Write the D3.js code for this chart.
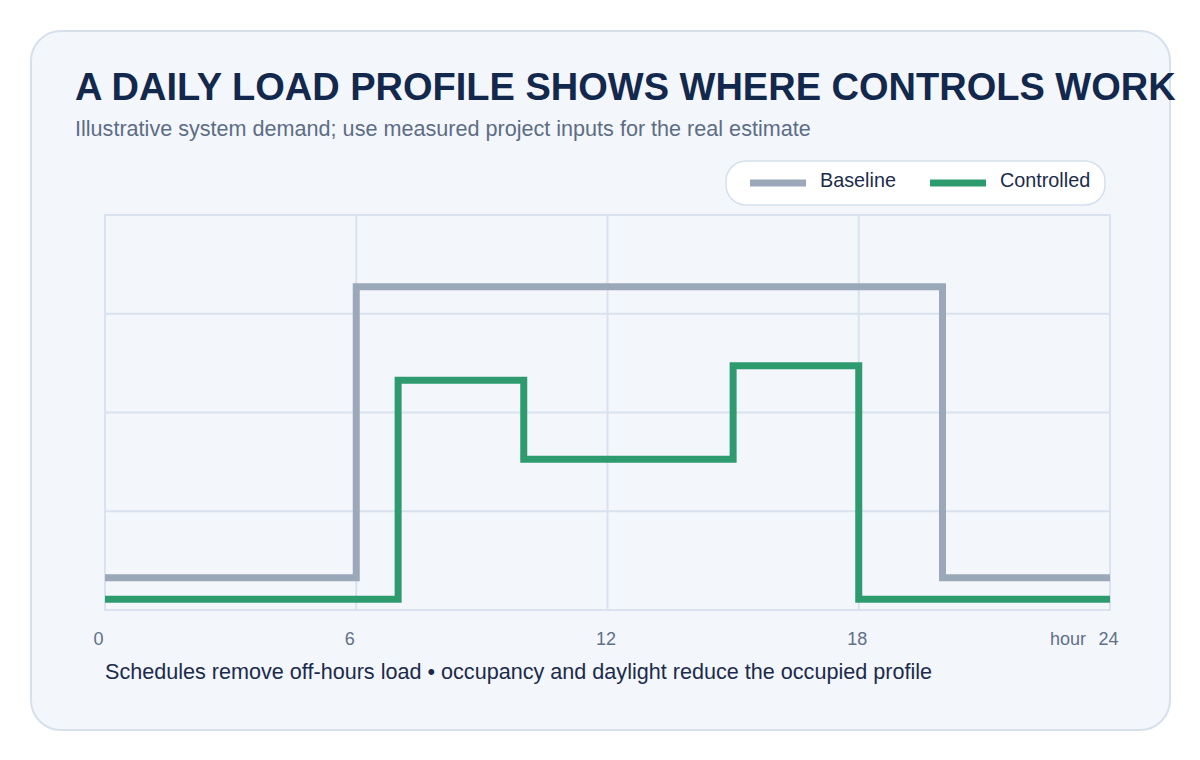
<!DOCTYPE html>
<html>
<head>
<meta charset="utf-8">
<script src="https://cdn.jsdelivr.net/npm/d3@7"></script>
<style>
  body { margin: 0; background: #ffffff; }
  svg text { font-family: "Liberation Sans", Arial, Helvetica, sans-serif; }
</style>
</head>
<body>
<div id="chart"></div>
<script>
// hour boundaries of each step and the level held from that hour on
var baselineHours = [0, 6, 20, 24];
var baselineLoad  = [9, 90, 9, 9];
var controlledHours = [0, 7, 10, 15, 18, 24];
var controlledLoad  = [3, 64, 42, 68, 3, 3];
var xTicks = [0, 6, 12, 18, 24];
var seriesNames = ["Baseline", "Controlled"];
var seriesColors = ["#9aa8ba", "#2e9b6f"];

var titleText = "A DAILY LOAD PROFILE SHOWS WHERE CONTROLS WORK";
var subtitleText = "Illustrative system demand; use measured project inputs for the real estimate";
var noteText = "Schedules remove off-hours load \u2022 occupancy and daylight reduce the occupied profile";

// set the dimensions and margins of the graph
var W = 1200, H = 760;
var margin = {top: 215, right: 90, bottom: 150, left: 105},
    width = W - margin.left - margin.right,
    height = H - margin.top - margin.bottom;

var svg = d3.select("#chart")
  .append("svg")
    .attr("width", W)
    .attr("height", H)
    .style("overflow", "visible");

// card behind everything
svg.append("rect")
  .attr("x", 31).attr("y", 31)
  .attr("width", 1139).attr("height", 699)
  .attr("rx", 30).attr("ry", 30)
  .attr("fill", "#f3f6fb")
  .attr("stroke", "#d6e0ed")
  .attr("stroke-width", 2);

svg.append("text")
  .attr("x", 75).attr("y", 100)
  .attr("fill", "#13284d")
  .style("font-size", "38px")
  .style("font-weight", "bold")
  .text(titleText);

svg.append("text")
  .attr("x", 75).attr("y", 136)
  .attr("fill", "#5d6d86")
  .style("font-size", "21.6px")
  .text(subtitleText);

var g = svg.append("g")
  .attr("transform", "translate(" + margin.left + "," + margin.top + ")");

var x = d3.scaleLinear().domain([0, 24]).range([0, width]);
var y = d3.scaleLinear().domain([0, 110]).range([height, 0]);

// grid
var gridColor = "#d9e2ee";
g.append("g")
  .selectAll("line")
  .data(d3.range(1, 4))
  .join("line")
    .attr("x1", 0).attr("x2", width)
    .attr("y1", function(d) { return height * d / 4; })
    .attr("y2", function(d) { return height * d / 4; })
    .attr("stroke", gridColor).attr("stroke-width", 2);

g.append("g")
  .selectAll("line")
  .data(xTicks.slice(1, -1))
  .join("line")
    .attr("x1", function(d) { return x(d); })
    .attr("x2", function(d) { return x(d); })
    .attr("y1", 0).attr("y2", height)
    .attr("stroke", gridColor).attr("stroke-width", 2);

g.append("rect")
  .attr("width", width).attr("height", height)
  .attr("fill", "none")
  .attr("stroke", gridColor).attr("stroke-width", 2);

// x axis, labels only
var xAxis = g.append("g")
  .attr("transform", "translate(0," + height + ")")
  .call(d3.axisBottom(x).tickValues(xTicks).tickSize(0));
xAxis.select(".domain").remove();
xAxis.selectAll("text")
  .attr("text-anchor", "start")
  .attr("x", -12)
  .attr("y", 35)
  .attr("dy", null)
  .attr("fill", "#5f7089")
  .style("font-size", "18px")
  .style("font-family", "Liberation Sans, Arial, sans-serif");

g.append("text")
  .attr("x", x(24) - 24)
  .attr("y", height + 35)
  .attr("text-anchor", "end")
  .attr("fill", "#5f7089")
  .style("font-size", "18px")
  .text("hour");

// step lines
var line = d3.line()
  .curve(d3.curveStepAfter)
  .x(function(d) { return x(d[0]); })
  .y(function(d) { return y(d[1]); });

var series = [
  d3.zip(baselineHours, baselineLoad),
  d3.zip(controlledHours, controlledLoad)
];

g.selectAll(".line")
  .data(series)
  .join("path")
    .attr("class", "line")
    .attr("fill", "none")
    .attr("stroke", function(d, i) { return seriesColors[i]; })
    .attr("stroke-width", 7)
    .attr("d", line);

// legend
var legend = svg.append("g").attr("transform", "translate(726,161)");
legend.append("rect")
  .attr("width", 379).attr("height", 44)
  .attr("rx", 20).attr("ry", 20)
  .attr("fill", "#ffffff")
  .attr("stroke", "#d6e0ed")
  .attr("stroke-width", 1.5);

var item = legend.selectAll(".item")
  .data(seriesNames)
  .join("g")
    .attr("class", "item")
    .attr("transform", function(d, i) { return "translate(" + (24 + i * 180) + ",0)"; });
item.append("line")
  .attr("x1", 0).attr("x2", 56)
  .attr("y1", 22).attr("y2", 22)
  .attr("stroke", function(d, i) { return seriesColors[i]; })
  .attr("stroke-width", 7);
item.append("text")
  .attr("x", 70).attr("y", 26)
  .attr("fill", "#1b2b4c")
  .style("font-size", "19.8px")
  .text(function(d) { return d; });

svg.append("text")
  .attr("x", 105).attr("y", 679)
  .attr("fill", "#1b2b4c")
  .style("font-size", "21.6px")
  .text(noteText);
</script>
</body>
</html>
